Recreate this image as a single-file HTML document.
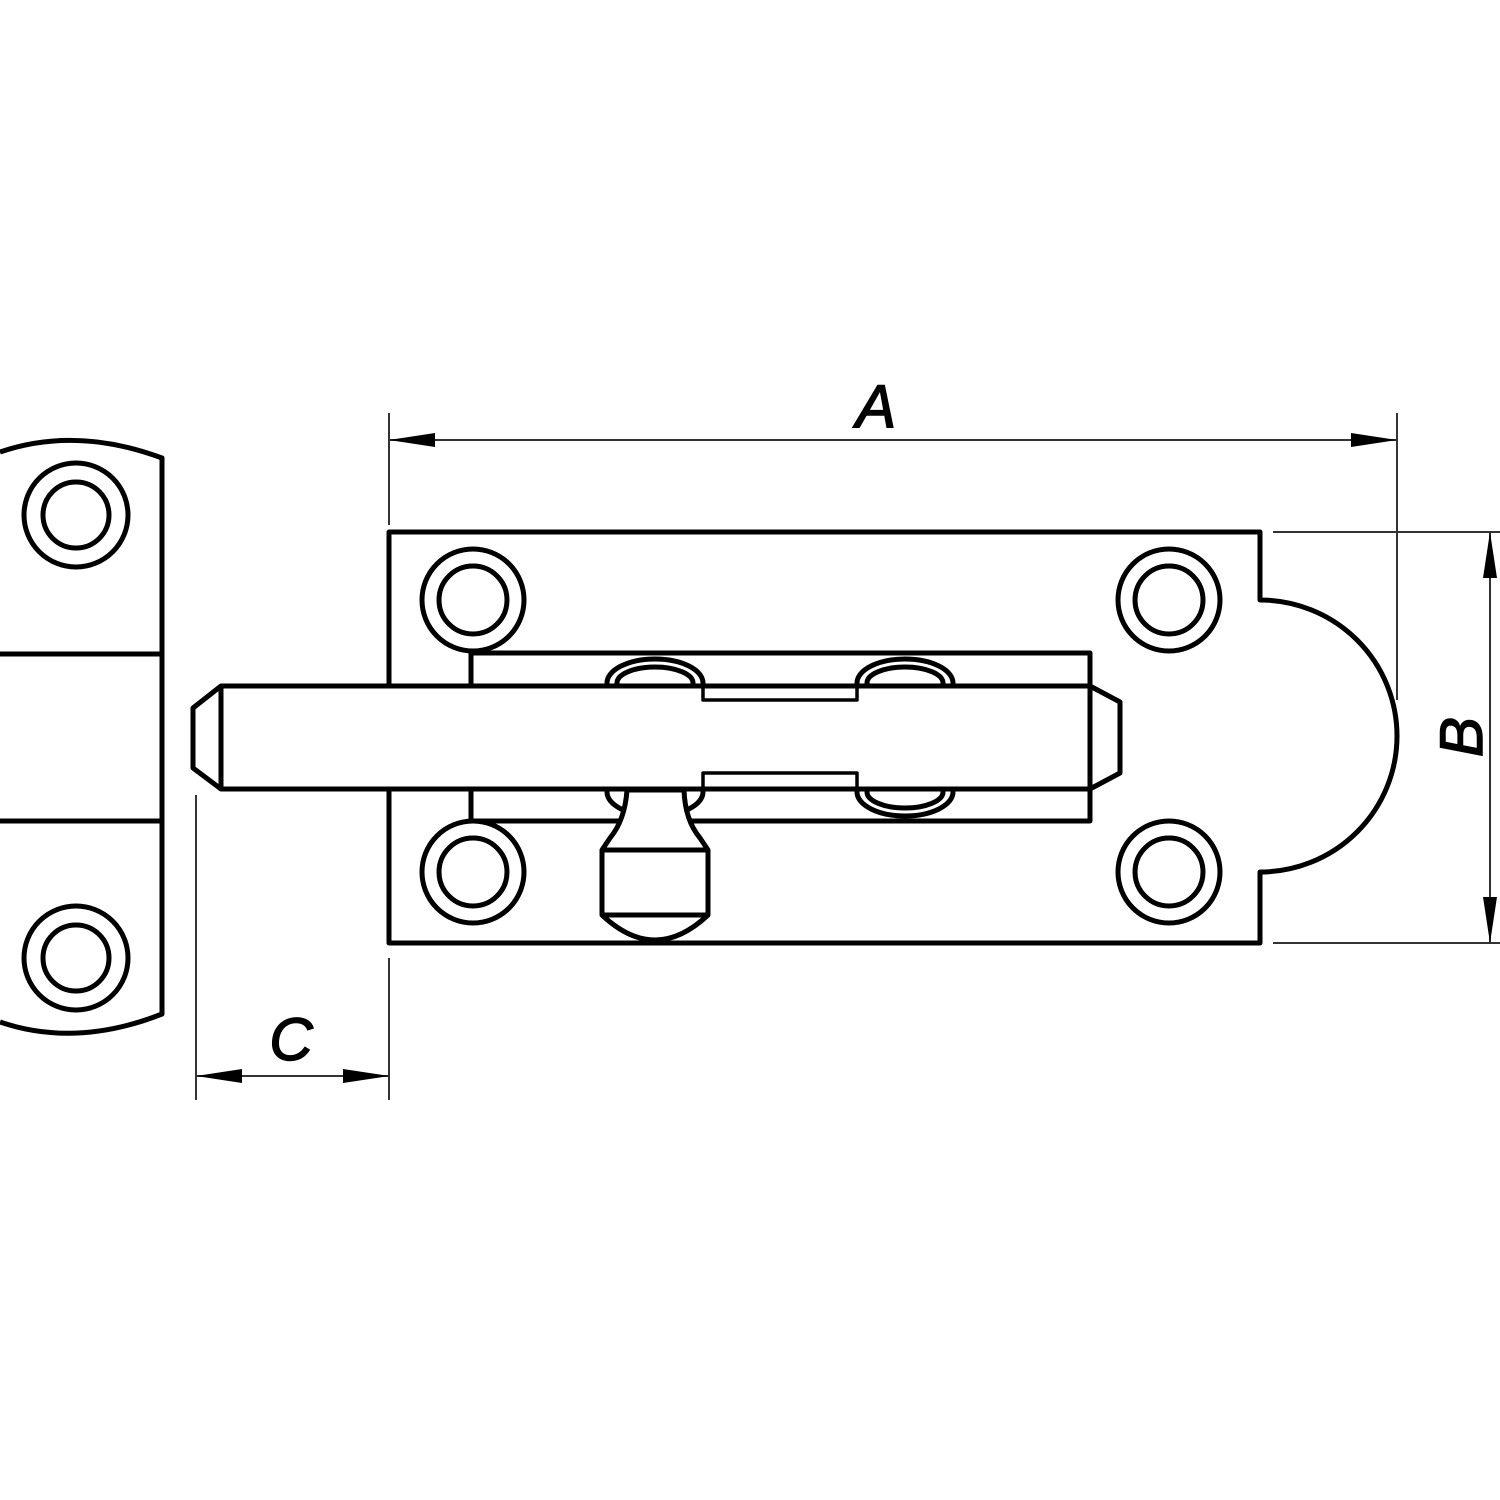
<!DOCTYPE html>
<html><head><style>html,body{margin:0;padding:0;background:#fff}svg{display:block}</style></head>
<body>
<svg width="1500" height="1500" viewBox="0 0 1500 1500" xmlns="http://www.w3.org/2000/svg">
<rect width="1500" height="1500" fill="#fff"/>
<g fill="none" stroke="#000" stroke-width="5" stroke-linejoin="round">
<!-- strike plate -->
<path d="M0,452 Q76,426 162,458 L162,1014 Q76,1048 0,1022"/>
<line x1="0" y1="654" x2="162" y2="654"/>
<line x1="0" y1="821" x2="162" y2="821"/>
<circle cx="76" cy="515" r="52"/><circle cx="76" cy="515" r="33"/>
<circle cx="76" cy="958" r="52"/><circle cx="76" cy="958" r="33"/>
<!-- main plate -->
<path d="M1260,532 L389,532 L389,943 L1260,943 L1260,872 A137,136 0 0 0 1260,600 Z"/>
<circle cx="473" cy="600" r="51"/><circle cx="473" cy="600" r="34"/>
<circle cx="1169" cy="600" r="51"/><circle cx="1169" cy="600" r="34"/>
<circle cx="473" cy="872" r="51"/><circle cx="473" cy="872" r="34"/>
<circle cx="1169" cy="872" r="51"/><circle cx="1169" cy="872" r="34"/>
<!-- bracket -->
<rect x="471" y="653" width="619" height="168" fill="#fff"/>
<!-- slot ovals -->
<ellipse cx="655" cy="683" rx="48" ry="24" fill="#fff"/>
<ellipse cx="655" cy="683" rx="38" ry="16"/>
<ellipse cx="905" cy="683" rx="48" ry="24" fill="#fff"/>
<ellipse cx="905" cy="683" rx="38" ry="16"/>
<ellipse cx="905" cy="792" rx="48" ry="24" fill="#fff"/>
<ellipse cx="905" cy="792" rx="38" ry="16"/>
<ellipse cx="655" cy="792" rx="48" ry="24" fill="#fff"/>
<!-- bolt -->
<path d="M221,686 L1090,686 L1120,702 L1120,773 L1090,789 L221,789 L193,768 L193,708 Z" fill="#fff"/>
<line x1="221" y1="686" x2="221" y2="789"/>
<line x1="1090" y1="686" x2="1090" y2="789"/>
<path d="M703,686 L703,700 L857,700 L857,686" stroke-width="3.5"/>
<path d="M703,789 L703,773 L857,773 L857,789" stroke-width="3.5"/>
<!-- knob -->
<path d="M627,790 Q625,820 610,838 L602,850 L602,915 Q655,965 708,915 L708,850 L700,838 Q685,820 684,790 Z" fill="#fff"/>
<line x1="602" y1="850" x2="708" y2="850"/>
<line x1="602" y1="915" x2="708" y2="915"/>
</g>
<!-- dimensions -->
<g stroke="#333" stroke-width="2" fill="none">
<line x1="389" y1="413" x2="389" y2="525"/>
<line x1="1397" y1="413" x2="1397" y2="700"/>
<line x1="389" y1="440" x2="1397" y2="440"/>
<line x1="1273" y1="532" x2="1500" y2="532"/>
<line x1="1273" y1="943" x2="1500" y2="943"/>
<line x1="1490" y1="532" x2="1490" y2="943"/>
<line x1="196" y1="795" x2="196" y2="1100"/>
<line x1="389" y1="958" x2="389" y2="1100"/>
<line x1="196" y1="1076" x2="389" y2="1076"/>
</g>
<g fill="#000">
<polygon points="389,440 435,433 435,447"/>
<polygon points="1397,440 1351,433 1351,447"/>
<polygon points="1490,532 1483,578 1497,578"/>
<polygon points="1490,943 1483,897 1497,897"/>
<polygon points="196,1076 242,1069 242,1083"/>
<polygon points="389,1076 343,1069 343,1083"/>
</g>
<g font-family="Liberation Sans, sans-serif" font-style="italic" font-size="60" fill="#000" stroke="#000" stroke-width="1.5">
<text x="876" y="427" text-anchor="middle">A</text>
<text x="291" y="1060" text-anchor="middle">C</text>
<text x="0" y="0" text-anchor="middle" transform="translate(1482,737) rotate(-90)">B</text>
</g>
</svg>
</body></html>
